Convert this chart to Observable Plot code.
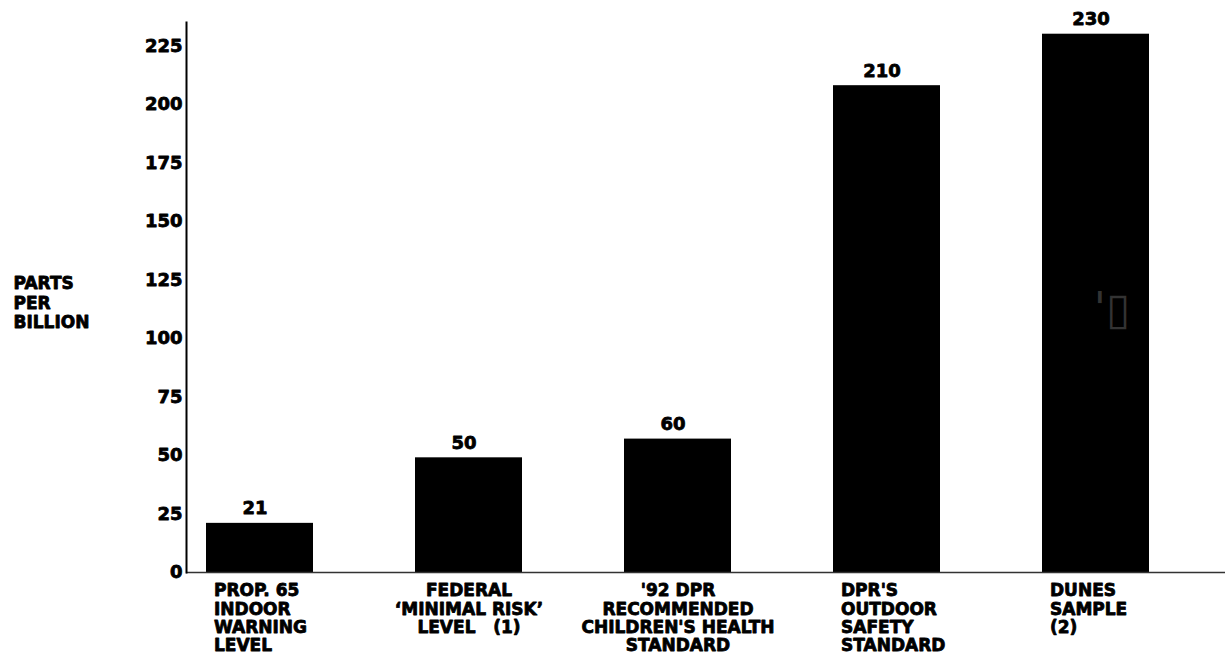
<!DOCTYPE html>
<html>
<head>
<meta charset="utf-8">
<script src="https://cdn.jsdelivr.net/npm/d3@7"></script>
<script src="https://cdn.jsdelivr.net/npm/@observablehq/plot@0.6"></script>
<style>
  html, body { margin: 0; padding: 0; background: white; }
  svg text { stroke: black; stroke-width: 0.8px; stroke-linejoin: round; }
  svg g[fill="#333"] text { stroke: none; }
</style>
</head>
<body>
<div id="chart"></div>
<script>
const categories = ["Prop 65", "Federal", "92 DPR", "DPR outdoor", "Dunes"];
const categoryLabels = [
  "PROP. 65\nINDOOR\nWARNING\nLEVEL",
  "FEDERAL\n\u2018MINIMAL RISK\u2019\nLEVEL\u00a0\u00a0\u00a0(1)",
  "'92 DPR\nRECOMMENDED\nCHILDREN'S HEALTH\nSTANDARD",
  "DPR'S\nOUTDOOR\nSAFETY\nSTANDARD",
  "DUNES\nSAMPLE\n(2)"
];
const labelCentered = [false, true, true, false, false];
const barHeights = [21, 49, 57, 208, 230];
const valueLabels = ["21", "50", "60", "210", "230"];
const yTicks = [0, 25, 50, 75, 100, 125, 150, 175, 200, 225];
const yLabel = "PARTS\nPER\nBILLION";
const noteCategory = "Dunes";
const noteValue = 112;
const noteText = "'\u25AF";

const data = categories.map((c, i) => ({
  cat: c, value: barHeights[i], valueLabel: valueLabels[i],
  label: categoryLabels[i], centered: labelCentered[i]
}));

const font = "DejaVu Sans";

const chart = Plot.plot({
  width: 1225,
  height: 658,
  marginLeft: 186,
  marginRight: 0,
  marginTop: 22,
  marginBottom: 86,
  style: { fontFamily: font, fontWeight: "bold", fontSize: "18px", color: "black", background: "white" },
  x: { domain: categories, paddingInner: 0.49, paddingOuter: 0.219, align: 0.21, axis: null },
  y: { domain: [0, 235] },
  marks: [
    Plot.barY(data, { x: "cat", y: "value", fill: "black" }),
    Plot.ruleY([0], { stroke: "#333", strokeWidth: 1.6 }),
    Plot.frame({ anchor: "left", stroke: "black", strokeWidth: 2 }),
    Plot.axisY({ ticks: yTicks, tickSize: 0, tickPadding: 4, label: null, fontSize: 18 }),
    Plot.text(data, { x: "cat", y: "value", text: "valueLabel", dy: -9, dx: -5, lineAnchor: "bottom", fontSize: 18 }),
    Plot.text(data.filter(d => d.centered), {
      x: "cat", text: "label", frameAnchor: "bottom", lineAnchor: "top",
      dy: 11, lineHeight: 1.07, fontSize: 17, textAnchor: "middle"
    }),
    Plot.text(data.filter(d => !d.centered), {
      x: "cat", text: "label", frameAnchor: "bottom", lineAnchor: "top",
      dy: 11, lineHeight: 1.07, fontSize: 17, textAnchor: "start", dx: -46
    }),
    Plot.text([yLabel], {
      text: d => d, frameAnchor: "left", dx: -173, dy: 5,
      textAnchor: "start", lineAnchor: "middle", lineHeight: 1.15, fontSize: 17
    }),
    Plot.text([noteText], {
      x: () => noteCategory, y: () => noteValue, text: d => d,
      fill: "#333", fontSize: 44, fontWeight: "normal", dx: 16
    })
  ]
});

document.getElementById("chart").appendChild(chart);
</script>
</body>
</html>
